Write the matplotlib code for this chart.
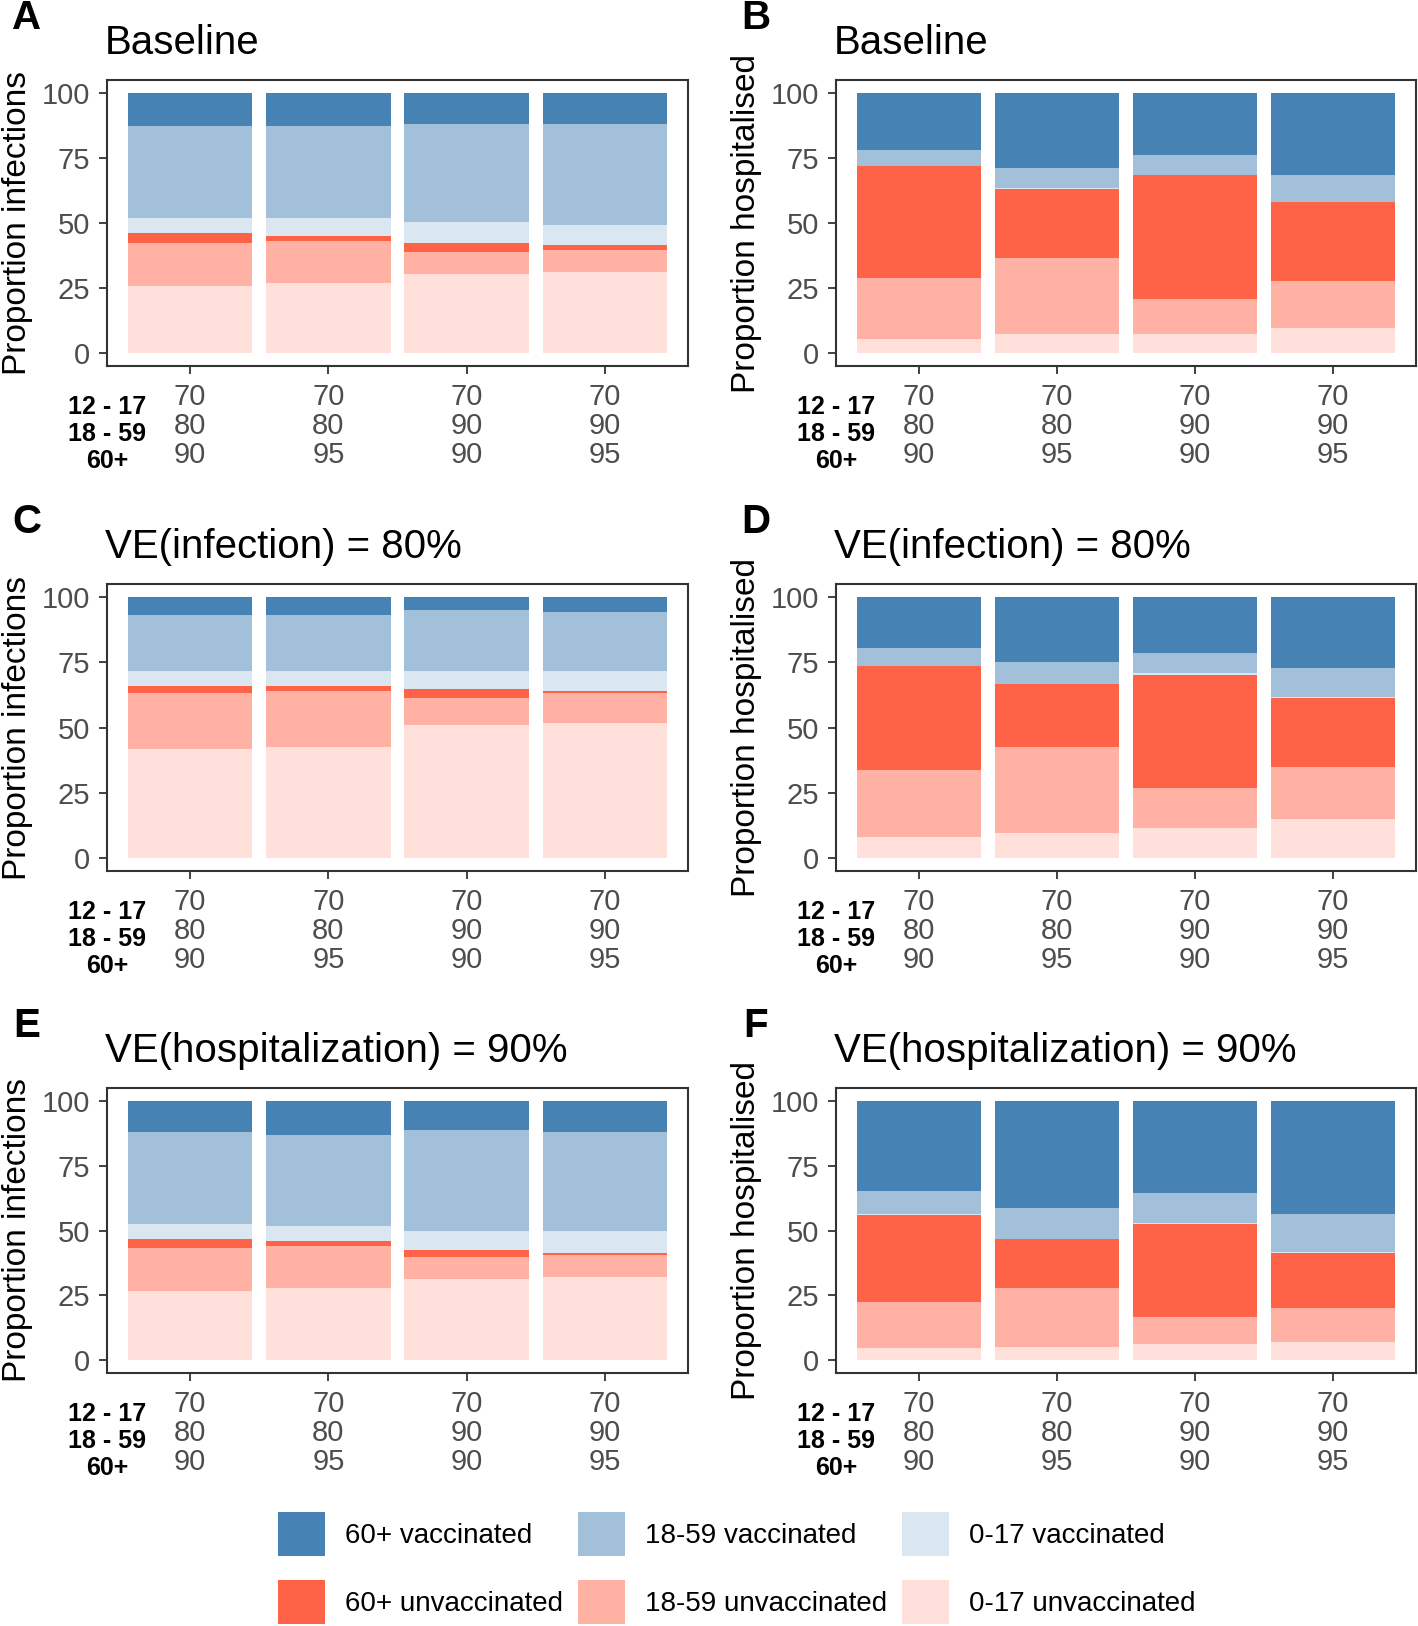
import matplotlib
matplotlib.use("Agg")
import matplotlib.pyplot as plt
from matplotlib.patches import Patch
import numpy as np

plt.rcParams['font.family'] = ['Liberation Sans', 'DejaVu Sans']

# scenario tick labels (coverage % in 12-17 / 18-59 / 60+)
cov_1217 = ['70', '70', '70', '70']
cov_1859 = ['80', '80', '90', '90']
cov_60 = ['90', '95', '90', '95']
row_names = "12 - 17\n18 - 59\n60+"

# series (bottom -> top) and colours
series = ['0-17 unvaccinated', '18-59 unvaccinated', '60+ unvaccinated',
          '0-17 vaccinated', '18-59 vaccinated', '60+ vaccinated']
colors = ['#FFE0DA', '#FFB1A3', '#FF6347', '#DAE6F0', '#A2C0D9', '#4682B4']

# percentages per series (rows follow `series`), one value per scenario
panel_a = [[25.9, 26.8, 30.4, 31.3],
           [16.5, 16.4, 8.6, 8.5],
           [3.6, 1.9, 3.5, 1.7],
           [5.9, 6.8, 7.7, 7.9],
           [35.3, 35.3, 37.9, 38.7],
           [12.8, 12.8, 11.9, 11.9]]
panel_b = [[5.4, 7.2, 7.2, 9.6],
           [23.3, 29.2, 13.7, 18.1],
           [43.1, 26.8, 47.4, 30.3],
           [0.1, 0.1, 0.1, 0.1],
           [6.1, 7.8, 7.7, 10.3],
           [22.0, 28.9, 23.9, 31.6]]
panel_c = [[41.6, 42.5, 51.1, 51.9],
           [21.6, 21.5, 10.2, 11.2],
           [2.6, 1.8, 3.5, 0.9],
           [5.8, 5.8, 6.8, 7.6],
           [21.6, 21.6, 23.4, 22.7],
           [6.8, 6.8, 5.0, 5.7]]
panel_d = [[7.9, 9.7, 11.4, 14.8],
           [25.9, 32.7, 15.5, 19.9],
           [39.8, 24.3, 43.2, 26.7],
           [0.1, 0.1, 0.7, 0.1],
           [6.9, 8.4, 7.9, 11.2],
           [19.4, 24.8, 21.3, 27.3]]
panel_e = [[26.8, 27.7, 31.1, 32.0],
           [16.3, 16.3, 8.7, 8.6],
           [3.5, 1.8, 2.5, 0.9],
           [6.1, 6.0, 7.7, 8.5],
           [35.2, 35.2, 38.8, 37.9],
           [12.1, 13.0, 11.2, 12.1]]
panel_f = [[4.5, 5.2, 6.1, 7.0],
           [17.9, 22.5, 10.4, 12.9],
           [33.7, 19.0, 36.2, 21.6],
           [0.1, 0.1, 0.1, 0.1],
           [9.2, 11.7, 11.7, 14.6],
           [34.6, 41.5, 35.5, 43.8]]

panels = [
    ('A', 'Baseline', 'Proportion infections', panel_a),
    ('B', 'Baseline', 'Proportion hospitalised', panel_b),
    ('C', 'VE(infection) = 80%', 'Proportion infections', panel_c),
    ('D', 'VE(infection) = 80%', 'Proportion hospitalised', panel_d),
    ('E', 'VE(hospitalization) = 90%', 'Proportion infections', panel_e),
    ('F', 'VE(hospitalization) = 90%', 'Proportion hospitalised', panel_f),
]

W, H = 1418, 1626
fig = plt.figure(figsize=(W / 100, H / 100), dpi=100)

# axes boxes in pixels: left, top, right, bottom
lefts = [(107, 688), (836, 1416)]
rows = [(80, 366), (584, 871), (1088, 1373)]

x = np.arange(1, 5)
tick_labels = [f"{a}\n{b}\n{c}" for a, b, c in zip(cov_1217, cov_1859, cov_60)]

for i, (letter, title, ylab, data) in enumerate(panels):
    l, r = lefts[i % 2]
    t, b = rows[i // 2]
    ax = fig.add_axes([l / W, 1 - b / H, (r - l) / W, (b - t) / H])
    bottom = np.zeros(4)
    for vals, col in zip(data, colors):
        ax.bar(x, vals, width=0.9, bottom=bottom, color=col, linewidth=0)
        bottom += np.array(vals)
    ax.set_xlim(0.4, 4.6)
    ax.set_ylim(-5, 105)
    ax.set_yticks([0, 25, 50, 75, 100])
    ax.set_xticks(x)
    ax.set_xticklabels(tick_labels, linespacing=1.05)
    ax.tick_params(axis='both', colors='#333333', labelcolor='#4D4D4D',
                   labelsize=21, length=6, width=1.3, pad=6)
    for sp in ax.spines.values():
        sp.set_color('#333333')
        sp.set_linewidth(1.5)
    ax.text(-89 / (r - l), 0.5, ylab, transform=ax.transAxes, rotation=90,
            ha='center', va='center', fontsize=24, color='black')
    ax.annotate(title, xy=(0, 1), xycoords='axes fraction', xytext=(-2, 37),
                textcoords='offset pixels', ha='left', va='center', fontsize=29)
    ax.annotate(letter, xy=(0, 1), xycoords='axes fraction', xytext=(-80, 62),
                textcoords='offset pixels', ha='center', va='center',
                fontsize=29, fontweight='bold')
    ax.annotate(row_names, xy=(0, 0), xycoords='axes fraction', xytext=(0, -68),
                textcoords='offset pixels', ha='center', va='center',
                fontsize=18, fontweight='bold', linespacing=1.15)

# legend: three columns, vaccinated on top row
order = [5, 2, 4, 1, 3, 0]
handles = [Patch(facecolor=colors[k], edgecolor='none') for k in order]
labels = [series[k] for k in order]
fig.legend(handles, labels, loc='upper left', bbox_to_anchor=(278 / W, 1 - 1512 / H),
           ncol=3, frameon=False, fontsize=20, handlelength=1.7, handleheight=2.07,
           handletextpad=0.7, columnspacing=0.55, labelspacing=0.86,
           borderpad=0, borderaxespad=0)

fig.savefig('out.png', dpi=100, facecolor='white')
